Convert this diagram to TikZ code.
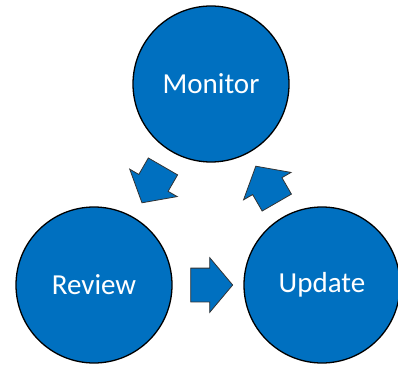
\documentclass[tikz,border=0pt]{standalone}
\usepackage{fontspec}
\setmainfont{Carlito}
\usetikzlibrary{positioning,shapes.arrows,calc}

\definecolor{cycleblue}{RGB}{0,112,192}

\begin{document}
\begin{tikzpicture}[
    x=1pt, y=1pt,
    node distance=201pt and 117pt, on grid,
    stage/.style={draw=black, circle, line width=1.3pt, fill=cycleblue, text=white, minimum size=156pt, inner sep=0pt, font=\fontsize{29}{34}\selectfont},
    flow/.style={draw=black!80, single arrow, line width=0.8pt, fill=cycleblue, minimum height=42pt, single arrow head extend=10.5pt, single arrow tip angle=100, inner xsep=0pt, inner ysep=16.5pt}
]
\useasboundingbox (0,0) rectangle (398,367);

% Nodes
\node[stage] (monitor) at (211,283) {Monitor};
\node[stage, below left=of monitor] (review) {Review};
\node[stage, below right=201pt and 111pt of monitor] (update) {Update};

% Arrows
\node[flow, rotate=240] (tor) at ($(monitor)!0.47!(review)$) {};
\node[flow] (tou) at ($(review)!0.485!(update)$) {};
\node[flow, rotate=120] (tom) at ($(update)!0.47!(monitor)$) {};

\end{tikzpicture}
\end{document}
